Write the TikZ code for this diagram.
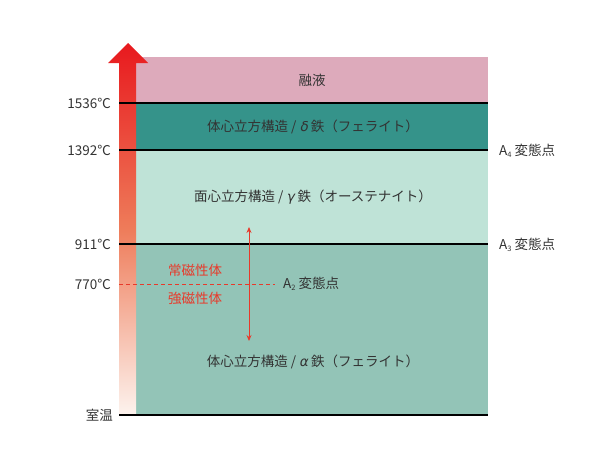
\documentclass[tikz,border=0pt]{standalone}
\usepackage{fontspec}
\setmainfont{Noto Sans CJK JP}
\newfontfamily\grk[FakeSlant=0.2]{DejaVu Sans}
\usetikzlibrary{arrows.meta}
\definecolor{melt}{HTML}{DDAABB}
\definecolor{delta}{HTML}{35938A}
\definecolor{gamma}{HTML}{BFE3D7}
\definecolor{alpha}{HTML}{93C4B7}
\definecolor{hot}{HTML}{E8191E}
\definecolor{mid}{HTML}{EE7C5A}
\definecolor{cold}{HTML}{FDF3EE}
\definecolor{txt}{HTML}{333333}
\definecolor{rd}{HTML}{E8392A}
\tikzset{
  lbl/.style={font=\fontsize{13.5}{15}\selectfont, text=txt, inner sep=0pt},
  tlbl/.style={lbl, anchor=east},
  rlbl/.style={lbl, anchor=west},
  band/.style={lbl, anchor=center},
  redlbl/.style={font=\fontsize{13.5}{15}\selectfont, text=rd, inner sep=0pt},
  level/.style={line width=1.6pt, black},
}
\begin{document}
\begin{tikzpicture}[x=1pt,y=-1pt]
\useasboundingbox (0,0) rectangle (600,463);
% bands
\fill[melt]  (136,57)  rectangle (488,103);
\fill[delta] (136,103) rectangle (488,150);
\fill[gamma] (136,150) rectangle (488,244);
\fill[alpha] (136,244) rectangle (488,415);
% temperature arrow
\shade[top color=hot, bottom color=cold, middle color=mid]
  (119,415) -- (119,63) -- (108,63) -- (128,43) -- (148,63) -- (136,63) -- (136,415) -- cycle;
% level lines
\draw[level] (119,103) -- (488,103);
\draw[level] (119,150) -- (488,150);
\draw[level] (119,244) -- (488,244);
\draw[level] (119,415) -- (488,415);
\draw[rd, line width=0.9pt, dash pattern=on 4pt off 3pt] (119,284) -- (275,284);
% band texts
\node[band] (melt) at (312,80) {融液};
\node[band] (d) at (313,127) {体心立方構造 / {\grk δ} 鉄（フェライト）};
\node[band] (g) at (313,197) {面心立方構造 / {\grk γ} 鉄（オーステナイト）};
\node[band] (a) at (313,362) {体心立方構造 / {\grk α} 鉄（フェライト）};
% temperature labels
\node[tlbl] (t1) at (111,103) {1536℃};
\node[tlbl] (t2) at (111,150) {1392℃};
\node[tlbl] (t3) at (111,244) {911℃};
\node[tlbl] (t4) at (111,284) {770℃};
\node[tlbl] (t5) at (113,415) {室温};
% transformation points
\node[rlbl] (a4) at (499,151) {A\raisebox{-0.35ex}{\fontsize{7.5}{8}\selectfont 4} 変態点};
\node[rlbl] (a3) at (499,245) {A\raisebox{-0.35ex}{\fontsize{7.5}{8}\selectfont 3} 変態点};
\node[rlbl] (a2) at (283,284) {A\raisebox{-0.35ex}{\fontsize{7.5}{8}\selectfont 2} 変態点};
% magnetism
\node[redlbl] (para) at (195,270) {常磁性体};
\node[redlbl] (ferro) at (195,298) {強磁性体};
\coordinate (up) at (249,227);
\coordinate (dn) at (249,341);
\draw[rd, line width=0.8pt, {Stealth[length=6pt,width=5pt]}-{Stealth[length=6pt,width=5pt]}] (up) -- (dn);
\end{tikzpicture}
\end{document}
